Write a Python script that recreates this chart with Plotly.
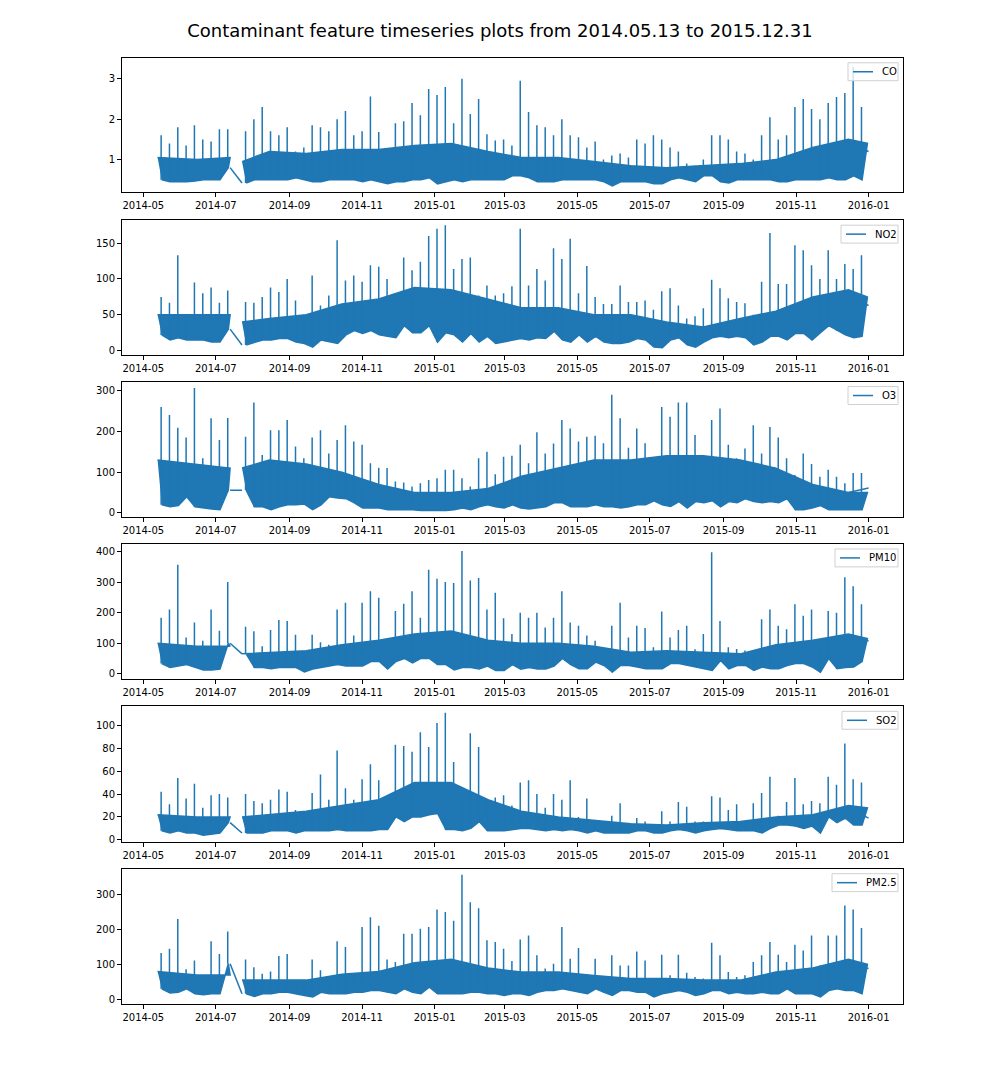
import pandas as pd
import plotly.graph_objects as go

# weekly readings: peak and trough of each week
# segment A = 2014-05-13 .. 2014-07-13, segment B = 2014-07-23 .. 2015-12-31
panels = ["CO", "NO2", "O3", "PM10", "SO2", "PM2.5"]

co_high_a = [1.6, 1.4, 1.8, 1.35, 1.85, 1.5, 1.45, 1.75, 1.75]
co_low_a = [0.5, 0.45, 0.45, 0.45, 0.47, 0.5, 0.5, 0.5, 0.8]
co_high_b = [1.7, 2.0, 2.3, 1.7, 1.6, 1.8, 1.2, 1.3, 1.85, 1.8,
             1.7, 2.0, 2.2, 1.6, 1.7, 2.56, 1.68, 1.2, 1.9, 1.95,
             2.4, 2.1, 2.75, 2.6, 2.8, 1.9, 3.0, 2.13, 2.5, 1.63,
             1.47, 1.5, 1.35, 2.95, 2.18, 1.85, 1.8, 1.6, 2.0, 1.6,
             1.55, 1.3, 1.45, 1.0, 1.1, 1.15, 1.05, 1.5, 1.4, 1.6,
             1.5, 1.3, 1.2, 0.9, 0.85, 1.0, 1.6, 1.6, 1.5, 1.2,
             1.15, 1.0, 1.6, 2.05, 1.5, 1.6, 2.3, 2.5, 2.25, 2.0,
             2.4, 2.55, 2.65, 3.3, 2.3]
co_low_b = [0.42, 0.5, 0.5, 0.5, 0.5, 0.5, 0.55, 0.5, 0.45, 0.45,
            0.5, 0.5, 0.5, 0.5, 0.45, 0.5, 0.45, 0.4, 0.45, 0.45,
            0.5, 0.5, 0.55, 0.4, 0.45, 0.5, 0.45, 0.5, 0.5, 0.5,
            0.5, 0.5, 0.6, 0.6, 0.55, 0.45, 0.45, 0.45, 0.5, 0.5,
            0.5, 0.5, 0.5, 0.45, 0.35, 0.45, 0.45, 0.45, 0.45, 0.4,
            0.4, 0.5, 0.55, 0.5, 0.45, 0.6, 0.6, 0.45, 0.42, 0.5,
            0.5, 0.5, 0.5, 0.5, 0.45, 0.45, 0.5, 0.5, 0.5, 0.5,
            0.55, 0.5, 0.5, 0.6, 0.5]

no2_high_a = [75, 67, 133, 50, 95, 80, 88, 67, 84]
no2_low_a = [22, 15, 18, 15, 15, 15, 12, 12, 30]
no2_high_b = [68, 67, 75, 88, 82, 100, 70, 50, 105, 63,
              77, 154, 98, 105, 96, 119, 117, 100, 70, 130,
              112, 124, 160, 170, 175, 114, 128, 130, 77, 91,
              77, 80, 90, 170, 91, 114, 98, 143, 128, 156,
              80, 118, 75, 65, 65, 91, 68, 68, 70, 57,
              83, 87, 63, 45, 48, 59, 99, 87, 73, 68,
              66, 50, 96, 164, 93, 93, 147, 140, 119, 100,
              140, 100, 121, 114, 133]
no2_low_b = [8, 12, 15, 15, 17, 17, 12, 10, 5, 15,
             12, 10, 22, 28, 24, 28, 22, 20, 18, 35,
             25, 25, 35, 12, 25, 22, 12, 24, 12, 20,
             10, 12, 15, 17, 15, 18, 17, 27, 15, 12,
             22, 12, 20, 12, 10, 10, 12, 17, 15, 5,
             4, 15, 18, 8, 5, 12, 18, 20, 18, 20,
             18, 8, 12, 20, 20, 15, 24, 24, 15, 25,
             35, 28, 22, 18, 20]

o3_high_a = [260, 240, 209, 185, 306, 134, 232, 179, 233]
o3_low_a = [20, 15, 18, 40, 15, 12, 10, 8, 56]
o3_high_b = [187, 271, 142, 203, 203, 228, 163, 134, 185, 203,
             146, 179, 215, 175, 167, 122, 111, 110, 77, 75,
             65, 73, 81, 85, 106, 106, 85, 65, 134, 150,
             95, 138, 140, 167, 122, 198, 146, 170, 228, 207,
             175, 187, 189, 171, 290, 232, 160, 207, 171, 93,
             260, 236, 271, 271, 191, 130, 228, 256, 167, 134,
             158, 215, 146, 211, 185, 134, 93, 146, 120, 89,
             106, 89, 73, 98, 98]
o3_low_b = [56, 15, 15, 8, 15, 20, 20, 22, 8, 20,
            40, 37, 35, 25, 12, 12, 12, 8, 8, 8,
            8, 6, 6, 6, 6, 8, 12, 8, 15, 20,
            15, 12, 20, 12, 10, 12, 15, 25, 25, 15,
            15, 15, 20, 15, 15, 12, 15, 20, 20, 30,
            20, 16, 28, 12, 28, 25, 30, 15, 28, 25,
            35, 28, 25, 28, 25, 35, 8, 8, 12, 18,
            8, 8, 8, 8, 8]

pm10_high_a = [184, 211, 358, 119, 168, 108, 211, 141, 301]
pm10_low_a = [33, 20, 25, 30, 22, 12, 12, 15, 100]
pm10_high_b = [154, 139, 90, 143, 176, 173, 128, 60, 128, 103,
               95, 211, 233, 125, 233, 271, 249, 108, 206, 230,
               271, 184, 341, 312, 301, 298, 403, 306, 314, 211,
               266, 182, 130, 200, 184, 200, 152, 184, 271, 168,
               157, 125, 108, 76, 157, 233, 119, 157, 150, 87,
               204, 119, 143, 157, 80, 130, 399, 173, 87, 81,
               76, 60, 179, 211, 157, 146, 228, 190, 211, 80,
               206, 200, 317, 287, 228]
pm10_low_b = [65, 20, 20, 16, 20, 20, 20, 6, 15, 20,
              25, 30, 25, 25, 25, 40, 40, 15, 40, 50,
              35, 50, 50, 30, 30, 12, 20, 20, 15, 25,
              10, 10, 30, 15, 20, 15, 15, 25, 50, 30,
              16, 16, 38, 27, 5, 27, 27, 22, 16, 16,
              16, 33, 33, 27, 22, 16, 11, 43, 16, 27,
              27, 11, 22, 16, 16, 27, 33, 33, 22, 5,
              50, 16, 20, 22, 40]

so2_high_a = [42, 31, 54, 36, 49, 28, 39, 40, 37]
so2_low_a = [8, 6, 8, 6, 6, 4, 5, 6, 15]
so2_high_b = [40, 34, 32, 35, 44, 42, 26, 23, 41, 57,
              35, 78, 45, 35, 53, 66, 52, 29, 83, 82,
              77, 94, 81, 102, 111, 68, 41, 93, 81, 35,
              37, 39, 30, 50, 52, 40, 28, 40, 35, 52,
              20, 36, 17, 15, 21, 32, 13, 19, 16, 12,
              25, 16, 33, 29, 16, 16, 38, 37, 26, 31,
              16, 32, 41, 55, 21, 33, 54, 31, 34, 32,
              55, 48, 84, 53, 50]
so2_low_b = [6, 6, 6, 8, 8, 8, 6, 8, 8, 8,
             8, 9, 8, 8, 8, 8, 9, 9, 20, 16,
             20, 20, 22, 23, 9, 9, 8, 10, 16, 8,
             8, 8, 9, 10, 10, 9, 8, 9, 8, 9,
             8, 6, 8, 6, 6, 6, 6, 8, 8, 6,
             6, 8, 9, 8, 6, 8, 9, 10, 9, 8,
             8, 8, 6, 10, 13, 13, 12, 10, 12, 6,
             20, 15, 19, 13, 13]

pm25_high_a = [133, 145, 230, 86, 111, 60, 166, 130, 194]
pm25_low_a = [30, 18, 20, 30, 16, 13, 16, 16, 102]
pm25_high_b = [114, 92, 73, 80, 124, 130, 50, 40, 114, 83,
               50, 166, 150, 73, 207, 235, 211, 114, 107, 188,
               188, 202, 207, 257, 250, 225, 357, 278, 261, 169,
               164, 145, 110, 171, 183, 126, 88, 102, 207, 116,
               147, 69, 116, 55, 126, 97, 97, 137, 111, 60,
               128, 69, 128, 76, 64, 60, 162, 126, 78, 64,
               69, 107, 126, 164, 128, 107, 156, 140, 183, 97,
               183, 183, 269, 257, 204]
pm25_low_b = [16, 8, 16, 16, 20, 20, 16, 11, 7, 20,
              16, 16, 16, 20, 20, 25, 25, 20, 16, 30,
              20, 16, 35, 16, 16, 16, 16, 20, 20, 16,
              16, 11, 16, 16, 11, 20, 25, 25, 30, 25,
              20, 16, 30, 20, 11, 25, 25, 20, 20, 7,
              16, 20, 25, 20, 11, 16, 25, 25, 16, 20,
              16, 16, 20, 16, 16, 30, 16, 16, 16, 7,
              25, 30, 25, 25, 16]

last_reading = [1.2, 63, 61, 108, 19, 88]

# upper edge of the dense (solid) part of each trace, read roughly per month
band_dates_a = ["2014-05-13", "2014-06-15", "2014-07-13"]
band_dates_b = ["2014-07-23", "2014-08-15", "2014-09-15", "2014-10-15", "2014-11-15",
                "2014-12-15", "2015-01-15", "2015-02-15", "2015-03-15", "2015-04-15",
                "2015-05-15", "2015-06-15", "2015-07-15", "2015-08-15", "2015-09-15",
                "2015-10-15", "2015-11-15", "2015-12-15", "2015-12-31"]
co_band = [1.05, 1.0, 1.05,
           0.95, 1.2, 1.15, 1.25, 1.25, 1.35, 1.4, 1.2, 1.05, 1.05,
           0.95, 0.85, 0.8, 0.85, 0.9, 1.0, 1.3, 1.5, 1.4]
no2_band = [50, 50, 50,
            40, 45, 50, 65, 72, 88, 85, 72, 60, 60,
            50, 50, 40, 33, 45, 55, 75, 85, 75]
o3_band = [130, 120, 110,
           110, 130, 120, 100, 70, 50, 50, 60, 90, 110,
           130, 130, 140, 140, 130, 110, 70, 50, 50]
pm10_band = [100, 90, 90,
             65, 70, 75, 95, 110, 130, 140, 110, 100, 100,
             90, 70, 75, 70, 65, 95, 110, 130, 115]
so2_band = [22, 20, 20,
            20, 22, 25, 30, 35, 50, 50, 35, 25, 20,
            17, 14, 13, 15, 16, 20, 22, 30, 28]
pm25_band = [80, 70, 70,
             55, 55, 55, 72, 80, 105, 115, 90, 78, 78,
             68, 60, 60, 55, 55, 78, 90, 115, 100]

# legend box widths in the source picture (px)
legend_box_w = [50, 57, 50, 63, 56, 66]

y_ranges = [[0.19, 3.52], [-5.6, 182], [-10, 322], [-19, 426], [-1.7, 116.5], [-14, 374]]
y_ticks = [[1, 2, 3], [0, 50, 100, 150], [0, 100, 200, 300],
           [0, 100, 200, 300, 400], [0, 20, 40, 60, 80, 100], [0, 100, 200, 300]]

series = [
    (co_high_a, co_low_a, co_high_b, co_low_b),
    (no2_high_a, no2_low_a, no2_high_b, no2_low_b),
    (o3_high_a, o3_low_a, o3_high_b, o3_low_b),
    (pm10_high_a, pm10_low_a, pm10_high_b, pm10_low_b),
    (so2_high_a, so2_low_a, so2_high_b, so2_low_b),
    (pm25_high_a, pm25_low_a, pm25_high_b, pm25_low_b),
]
bands = [co_band, no2_band, o3_band, pm10_band, so2_band, pm25_band]

seg_a_start = pd.Timestamp("2014-05-13")
seg_b_start = pd.Timestamp("2014-07-23")
data_end = pd.Timestamp("2015-12-31 23:00")
week = pd.Timedelta(days=7)
day = pd.Timedelta(days=1)


def week_points(start, count):
    peak_x, low_x = [], []
    for i in range(count):
        t = start + i * week
        peak_x.append(t + 3 * day)
        low_x.append(t + 3.5 * day)
    return peak_x, low_x


def needles(peak_x, highs, lows):
    xs, ys = [], []
    for x, h, l in zip(peak_x, highs, lows):
        xs += [x, x, None]
        ys += [l, h, None]
    return xs, ys


W0, H0 = 1003, 1065
OFF = 8  # the page body margin puts the figure at (8, 8)
W, H = W0 - OFF, H0 - OFF
panel_px = [(58, 193), (221, 356), (383, 519), (546, 682), (709, 845), (872, 1008)]


def px_x(v):
    return (v - OFF) / W


def px_y(v):
    return 1 - (v - OFF) / H


tick_font = dict(family="DejaVu Sans", size=10, color="black")
blue = "#1f77b4"

fig = go.Figure()
layout = {}
shapes, notes = [], []
for i, name in enumerate(panels):
    n = "" if i == 0 else str(i + 1)
    high_a, low_a, high_b, low_b = series[i]
    band = bands[i]
    pk_a, lo_a = week_points(seg_a_start, len(high_a))
    pk_b, lo_b = week_points(seg_b_start, len(high_b))

    # dense part of the hourly trace: weekly troughs up to the solid band edge
    for dates, top, lx, ly in ((band_dates_a, band[:3], lo_a, low_a),
                               (band_dates_b, band[3:], lo_b, low_b)):
        fig.add_trace(go.Scatter(
            x=[pd.Timestamp(d) for d in dates] + lx[::-1],
            y=list(top) + list(ly)[::-1],
            mode="lines", fill="toself", fillcolor=blue,
            line=dict(width=1.5, color=blue), hoverinfo="skip", showlegend=False,
            xaxis="x" + n, yaxis="y" + n,
        ))

    # weekly peaks as needles, plus the straight line across the missing July days
    xa, ya = needles(pk_a, high_a, low_a)
    xb, yb = needles(pk_b, high_b, low_b)
    gap_x = [pd.Timestamp(band_dates_a[-1]), pd.Timestamp(band_dates_b[0]), None]
    gap_y = [low_a[-1], low_b[0], None]
    end_x = [pd.Timestamp(band_dates_b[-2]), data_end]
    end_y = [band[-1], last_reading[i]]
    fig.add_trace(go.Scatter(
        x=xa + gap_x + xb + end_x, y=ya + gap_y + yb + end_y,
        mode="lines", name=name, showlegend=False,
        line=dict(color=blue, width=1.5),
        xaxis="x" + n, yaxis="y" + n,
    ))

    top, bot = panel_px[i]
    layout["xaxis" + n] = dict(
        domain=[px_x(122), px_x(903)], anchor="y" + n,
        range=["2014-04-13 02:00", "2016-01-29 22:00"],
        tick0="2014-05-01", dtick="M2", tickformat="%Y-%m",
        showline=True, mirror=True, linecolor="black", linewidth=1,
        ticks="outside", ticklen=4, tickcolor="black",
        showgrid=False, zeroline=False, tickfont=tick_font,
    )
    layout["yaxis" + n] = dict(
        domain=[px_y(bot), px_y(top)], anchor="x" + n,
        range=y_ranges[i], tickvals=y_ticks[i],
        showline=True, mirror=True, linecolor="black", linewidth=1,
        ticks="outside", ticklen=4, tickcolor="black",
        showgrid=False, zeroline=False, tickfont=tick_font,
    )

    # legend box drawn like the matplotlib one
    right, left = 898, 898 - legend_box_w[i]
    ltop, lbot = top + 5, top + 23
    mid = (ltop + lbot) / 2
    shapes.append(dict(
        type="rect", xref="paper", yref="paper",
        x0=px_x(left), x1=px_x(right), y0=px_y(lbot), y1=px_y(ltop),
        line=dict(color="#d0d0d0", width=1), fillcolor="rgba(255,255,255,0.8)",
    ))
    shapes.append(dict(
        type="line", xref="paper", yref="paper",
        x0=px_x(left + 5), x1=px_x(left + 25), y0=px_y(mid), y1=px_y(mid),
        line=dict(color=blue, width=1.5),
    ))
    notes.append(dict(
        text=name, xref="paper", yref="paper", x=px_x(left + 32), y=px_y(mid),
        xanchor="left", yanchor="middle", showarrow=False,
        font=dict(family="DejaVu Sans", size=10, color="black"),
    ))

fig.update_layout(
    width=W, height=H,
    margin=dict(l=0, r=0, t=0, b=0),
    paper_bgcolor="white", plot_bgcolor="white",
    showlegend=False,
    shapes=shapes, annotations=notes,
    title=dict(
        text="Contaminant feature timeseries plots from 2014.05.13 to 2015.12.31",
        x=px_x(500), xanchor="center", y=px_y(31), yanchor="middle",
        font=dict(family="DejaVu Sans", size=18, color="black"),
    ),
    **layout,
)

fig.write_html("out.html")
